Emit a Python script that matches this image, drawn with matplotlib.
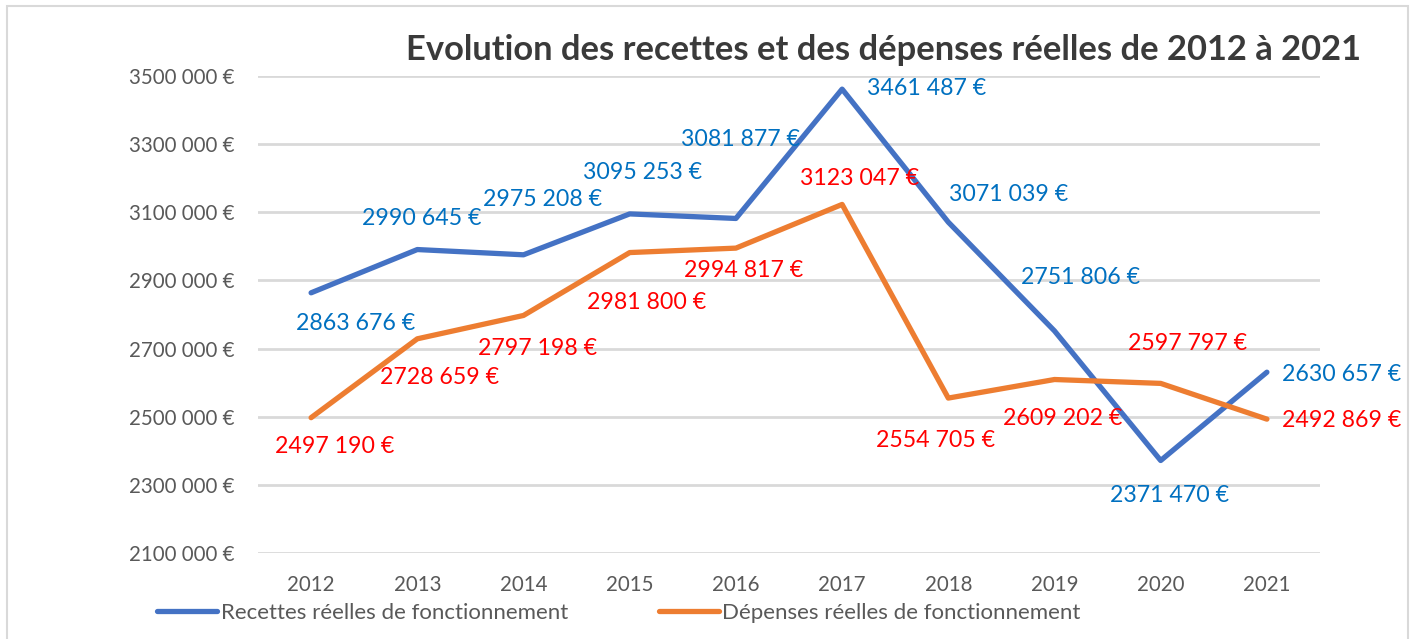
import matplotlib.pyplot as plt
from matplotlib.patches import Rectangle

# Data
years = ["2012", "2013", "2014", "2015", "2016", "2017", "2018", "2019", "2020", "2021"]
recettes = [2863676, 2990645, 2975208, 3095253, 3081877, 3461487, 3071039, 2751806, 2371470, 2630657]
depenses = [2497190, 2728659, 2797198, 2981800, 2994817, 3123047, 2554705, 2609202, 2597797, 2492869]
yticks = [2100000, 2300000, 2500000, 2700000, 2900000, 3100000, 3300000, 3500000]

# label placement (pixels from the point), like in the Excel chart
recettes_offsets = [(45, -31), (4, 31), (19, 55), (13, 41), (5, 79),
                    (85, 1), (60, 28), (26, 53), (9, -35), (75, -2)]
depenses_offsets = [(24, -29), (22, -39), (14, -33), (17, -50), (8, -22),
                    (17, 26), (-13, -42), (8, -39), (27, 40), (75, -1)]

FONT = ["Lato", "DejaVu Sans"]
plt.rcParams["font.family"] = FONT


def euro(v):
    s = f"{v:,}".replace(",", " ")
    # Excel shows "3500 000" : no separator in the millions group
    parts = s.split(" ")
    return parts[0] + parts[1] + " " + parts[2] + " €"


fig = plt.figure(figsize=(14.17, 6.39), dpi=100)
ax = fig.add_axes([258 / 1417, 1 - 553 / 639, (1320 - 258) / 1417, (553 - 76) / 639])

x = list(range(len(years)))
ax.plot(x, recettes, color="#4472C4", lw=3.8, solid_capstyle="round",
        label="Recettes réelles de fonctionnement", zorder=3)
ax.plot(x, depenses, color="#ED7D31", lw=3.8, solid_capstyle="round",
        label="Dépenses réelles de fonctionnement", zorder=3)

for i, v in enumerate(recettes):
    ax.annotate(euro(v), (i, v), xytext=recettes_offsets[i], textcoords="offset pixels",
                ha="center", va="center", color="#0070C0", fontsize=16.7, zorder=4)
for i, v in enumerate(depenses):
    ax.annotate(euro(v), (i, v), xytext=depenses_offsets[i], textcoords="offset pixels",
                ha="center", va="center", color="#FF0000", fontsize=16.7, zorder=4)

ax.set_xlim(-0.5, len(years) - 0.5)
ax.set_ylim(2100000, 3500000)
ax.set_xticks(x)
ax.set_xticklabels(years)
ax.set_yticks(yticks)
ax.set_yticklabels([euro(v) for v in yticks])
ax.tick_params(axis="both", length=0, labelsize=14.8, labelcolor="#595959")
ax.tick_params(axis="x", pad=16)
ax.tick_params(axis="y", pad=17)
ax.grid(axis="y", color="#D9D9D9", lw=2)
ax.set_axisbelow(True)
for s in ax.spines.values():
    s.set_visible(False)

fig.text(883 / 1417, 1 - 50 / 639, "Evolution des recettes et des dépenses réelles de 2012 à 2021",
         ha="center", va="center", fontsize=24.8, fontweight="bold", color="#3A3A3A")

fig.legend(loc="center", bbox_to_anchor=(619 / 1417, 1 - 613 / 639), ncol=2, frameon=False,
           fontsize=16, labelcolor="#595959", handlelength=2.7, handletextpad=0.15,
           columnspacing=4.1)

fig.patches.append(Rectangle((7 / 1417, -0.05), (1408 - 7) / 1417, 1.05 - 6 / 639,
                             transform=fig.transFigure, fill=False,
                             edgecolor="#D9D9D9", lw=1.5))

fig.savefig("out.png", dpi=100)
